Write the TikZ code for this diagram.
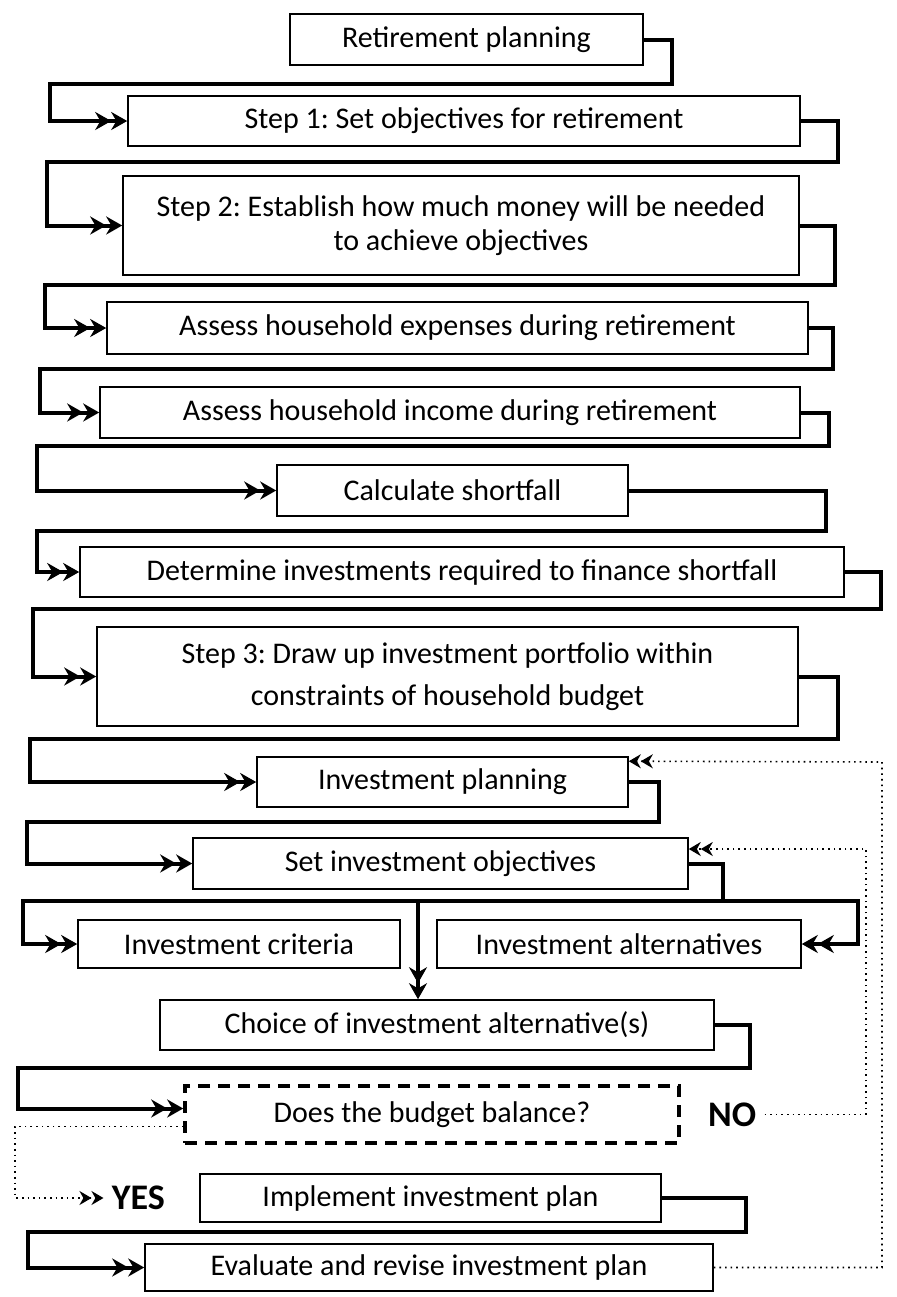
\documentclass[tikz,border=0pt]{standalone}
\usepackage{fontspec}
\setmainfont{Carlito}
\usetikzlibrary{
    arrows.meta,
    positioning
}
\frenchspacing

\begin{document}
\begin{tikzpicture}[x=0.5pt, y=-0.5pt,
    font=\fontsize{15}{17}\selectfont,
    box/.style={
        rectangle,
        draw=black,
        line width=0.8pt,
        align=center,
        inner sep=0pt,
        minimum height=25pt
    },
    query/.style={
        box,
        line width=1.8pt,
        dash pattern=on 6pt off 4pt
    },
    answer/.style={
        font=\fontsize{18}{20}\selectfont\bfseries,
        inner sep=0pt
    },
    link/.style={-{Stealth[length=8pt,width=9pt]Stealth[length=8pt,width=9pt]}, line width=2pt},
    loop/.style={-{Stealth[length=6pt,width=7pt]Stealth[length=6pt,width=7pt]}, line width=0.8pt, dotted}
]
\useasboundingbox (0,0) rectangle (896,1297);

% ===== Retirement planning =====
\node[box, minimum width=176.5pt, minimum height=25.5pt] (ret) at (466.5,39.5) {Retirement planning};
\node[box, minimum width=336pt] (step1) at (464,121) {Step 1: Set objectives for retirement};
\node[box, minimum width=338pt, minimum height=49.5pt] (step2) at (461,225.5) {Step 2: Establish how much money will be needed\\to achieve objectives};
\node[box, minimum width=350.5pt, minimum height=26pt] (expense) at (457.5,328) {Assess household expenses during retirement};
\node[box, minimum width=350pt, minimum height=25.5pt] (income) at (450,412.5) {Assess household income during retirement};
\node[box, minimum width=175.5pt, minimum height=25.5pt] (shortfall) at (452.5,490.5) {Calculate shortfall};
\node[box, minimum width=382pt] (finance) at (462,572) {Determine investments required to finance shortfall};
\node[box, minimum width=350.5pt, minimum height=49.5pt] (step3) at (447.5,676.5) {Step 3: Draw up investment portfolio within\\[4pt]constraints of household budget};

\draw[link] (ret.east) -| (672,84) -- (50,84) |- (step1.west);
\draw[link] (step1.east) -| (838,162) -- (47,162) |- (step2.west);
\draw[link] (step2.east) -| (835,285) -- (45,285) |- (expense.west);
\draw[link] (expense.east) -| (833,369) -- (40,369) |- (income.west);
\draw[link] (income.east) -| (829,446) -- (37,446) |- (shortfall.west);
\draw[link] (shortfall.east) -| (826,531) -- (37,531) |- (finance.west);
\draw[link] (finance.east) -| (881,608.5) -- (33,608.5) |- (step3.west);

% ===== Investment planning =====
\node[box, minimum width=185.5pt] (invplan) at (442.5,782) {Investment planning};
\node[box, minimum width=247.5pt, minimum height=25.5pt] (objective) at (440.5,863.5) {Set investment objectives};
\node[box, minimum width=161pt, minimum height=24pt] (criteria) at (239,944) {Investment criteria};
\node[box, minimum width=182pt, minimum height=24pt] (altern) at (619,944) {Investment alternatives};
\node[box, minimum width=277pt] (choice) at (437,1025) {Choice of investment alternative(s)};
\node[query, minimum width=247pt, minimum height=28.5pt] (balance) at (432,1114.5) {Does the budget balance?};
\node[answer, right=13.5pt of balance] (no) {NO};
\node[box, minimum width=230.5pt, minimum height=24pt] (implement) at (430.5,1198) {Implement investment plan};
\node[answer, left=17pt of implement] (yes) {YES};
\node[box, minimum width=284pt, minimum height=23.5pt] (evaluate) at (429,1267.5) {Evaluate and revise investment plan};

\coordinate (fork) at (723,901);
\coordinate (split) at (418,901);

\draw[link] (step3.east) -| (838,738.5) -- (30,738.5) |- (invplan.west);
\draw[link] (invplan.east) -| (659,821.5) -- (27,821.5) |- (objective.west);
\draw[link] (objective.east) -| (fork) -- (858,901) |- (altern.east);
\draw[link] (fork) -- (23,901) |- (criteria.west);
\draw[link] (split) -- (split |- choice.north);
\draw[link] (choice.east) -| (750,1068) -- (18,1068) |- ([yshift=3pt]balance.west);
\draw[link] (implement.east) -| (746,1232) -- (28,1232) |- (evaluate.west);

% feedback loops
\draw[loop] ([yshift=-6pt]balance.west) -- ++(-168,0) |- ([xshift=-4pt]yes.west);
\draw[loop] ([xshift=4pt]no.east) -| (866,849) -- ([yshift=7.25pt]objective.east);
\draw[loop] (evaluate.east) -| (882,762) -- ([yshift=-2.5pt]invplan.north east);

\end{tikzpicture}
\end{document}
